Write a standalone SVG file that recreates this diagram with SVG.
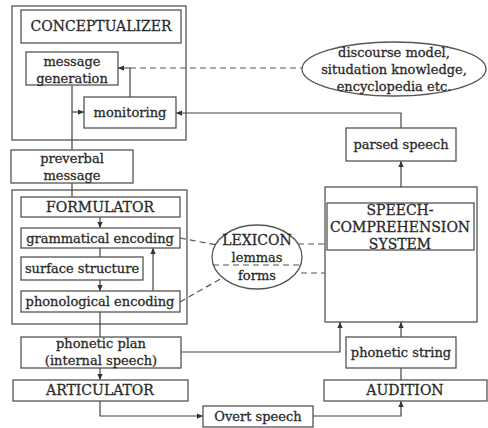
<svg xmlns="http://www.w3.org/2000/svg" width="488" height="428" viewBox="0 0 488 428">
<defs>
<marker id="ah" viewBox="0 0 8 8" refX="8" refY="4" markerWidth="6" markerHeight="6" orient="auto" markerUnits="userSpaceOnUse">
<path d="M0,0.5 L8,4 L0,7.5 z" fill="#333"/>
</marker>
<style>
.b{fill:#fff;stroke:#555;stroke-width:1.3}
.o{fill:none;stroke:#555;stroke-width:1.3}
.l{fill:none;stroke:#444;stroke-width:1.2}
.d{fill:none;stroke:#555;stroke-width:1.2;stroke-dasharray:6,4}
.t{font-family:"DejaVu Serif","Liberation Serif",serif;font-size:13px;fill:#2a2a2a;stroke:#2a2a2a;stroke-width:0.3;text-anchor:middle}
.c{font-size:14px}
</style>
</defs>
<rect width="488" height="428" fill="#fff"/>
<g id="conceptualizer-frame"><rect class="o" x="12" y="6" width="174" height="134"/></g>
<g id="formulator-frame"><rect class="o" x="12" y="190" width="175" height="134"/></g>
<g id="speech-comprehension-frame"><rect class="o" x="325" y="187" width="152" height="135"/></g>

<g id="connectors">
<path class="l" d="M72,85 V150"/>
<path class="l" d="M72,112 H84" marker-end="url(#ah)"/>
<path class="l" d="M130,97 V68 H118" marker-end="url(#ah)"/>
<path class="d" d="M130,68 H302"/>
<path class="l" d="M401,128 V113 H176" marker-end="url(#ah)"/>
<path class="l" d="M72,183 V197"/>
<path class="l" d="M100,217 V228" marker-end="url(#ah)"/>
<path class="l" d="M100,248 V257"/>
<path class="l" d="M100,280 V291" marker-end="url(#ah)"/>
<path class="l" d="M153,291 V248" marker-end="url(#ah)"/>
<path class="l" d="M100,312 V337"/>
<path class="l" d="M100,368 V380" marker-end="url(#ah)"/>
<path class="l" d="M181,352 H340 V322" marker-end="url(#ah)"/>
<path class="l" d="M100,401 V416 H203" marker-end="url(#ah)"/>
<path class="l" d="M313,416 H401 V401" marker-end="url(#ah)"/>
<path class="l" d="M401,380 V368"/>
<path class="l" d="M401,337 V322" marker-end="url(#ah)"/>
<path class="l" d="M401,187 V161" marker-end="url(#ah)"/>
<path class="d" d="M180,238 L217,245"/>
<path class="d" d="M180,302 L222,278"/>
<path class="d" d="M298,244 H325"/>
<path class="d" d="M301,273 H325"/>
<path class="d" d="M213,265 H302"/>
</g>

<g id="conceptualizer"><rect class="b" x="21" y="10" width="160" height="33"/><text class="t c" x="101" y="31">CONCEPTUALIZER</text></g>
<g id="message-generation"><rect class="b" x="26" y="52" width="92" height="33"/><text class="t" x="72" y="66">message</text><text class="t" x="72" y="83">generation</text></g>
<g id="monitoring"><rect class="b" x="84" y="97" width="92" height="31"/><text class="t" x="130" y="117">monitoring</text></g>
<g id="discourse-model"><ellipse cx="394" cy="69" rx="92" ry="27" fill="#fff" stroke="#555" stroke-width="1.3"/><text class="t" x="394" y="57">discourse model,</text><text class="t" x="394" y="74">situdation knowledge,</text><text class="t" x="394" y="91">encyclopedia etc.</text></g>
<g id="parsed-speech"><rect class="b" x="346" y="128" width="110" height="33"/><text class="t" x="401" y="149">parsed speech</text></g>
<g id="preverbal-message"><rect class="b" x="11" y="150" width="122" height="33"/><text class="t" x="72" y="163">preverbal</text><text class="t" x="72" y="180">message</text></g>
<g id="formulator"><rect class="b" x="21" y="197" width="159" height="20"/><text class="t c" x="100" y="212">FORMULATOR</text></g>
<g id="grammatical-encoding"><rect class="b" x="21" y="228" width="159" height="20"/><text class="t" x="100" y="243">grammatical encoding</text></g>
<g id="surface-structure"><rect class="b" x="21" y="257" width="122" height="23"/><text class="t" x="82" y="273">surface structure</text></g>
<g id="phonological-encoding"><rect class="b" x="21" y="291" width="159" height="21"/><text class="t" x="100" y="306">phonological encoding</text></g>
<g id="lexicon"><ellipse cx="257" cy="257" rx="45" ry="32" fill="none" stroke="#555" stroke-width="1.3"/><text class="t c" x="257" y="245">LEXICON</text><text class="t" x="257" y="262">lemmas</text><text class="t" x="257" y="280">forms</text></g>
<g id="speech-comprehension-system"><rect class="b" x="327" y="203" width="147" height="47"/><text class="t c" x="400" y="215">SPEECH-</text><text class="t c" x="400" y="232">COMPREHENSION</text><text class="t c" x="400" y="249">SYSTEM</text></g>
<g id="phonetic-plan"><rect class="b" x="21" y="337" width="160" height="31"/><text class="t" x="101" y="348">phonetic plan</text><text class="t" x="101" y="365">(internal speech)</text></g>
<g id="phonetic-string"><rect class="b" x="346" y="337" width="110" height="31"/><text class="t" x="401" y="357">phonetic string</text></g>
<g id="articulator"><rect class="b" x="13" y="380" width="175" height="21"/><text class="t c" x="100" y="395">ARTICULATOR</text></g>
<g id="audition"><rect class="b" x="324" y="380" width="163" height="21"/><text class="t c" x="405" y="395">AUDITION</text></g>
<g id="overt-speech"><rect class="b" x="203" y="406" width="110" height="21"/><text class="t" x="258" y="421">Overt speech</text></g>
</svg>
